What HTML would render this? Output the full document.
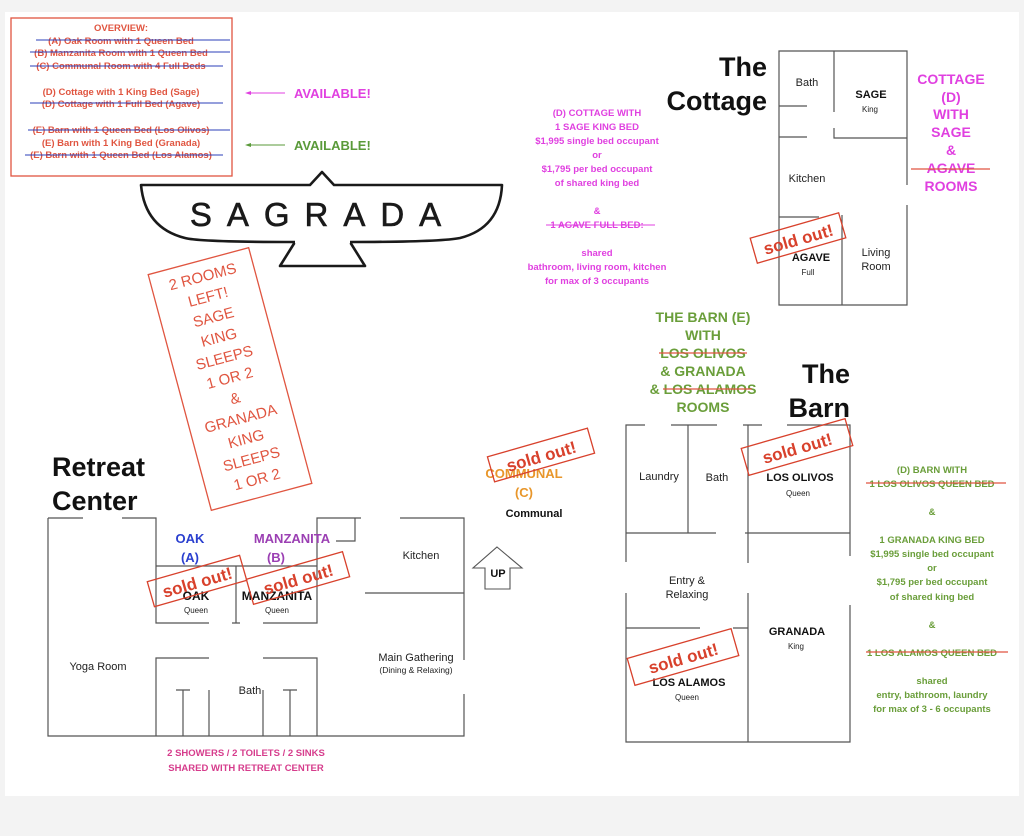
<!DOCTYPE html>
<html><head><meta charset="utf-8"><style>
html,body{margin:0;padding:0;background:#f3f3f3;}
svg{display:block;}
text{font-family:"Liberation Sans",Arial,sans-serif;}
</style></head><body>
<svg width="1024" height="836" viewBox="0 0 1024 836" xmlns="http://www.w3.org/2000/svg">
<rect x="5" y="12" width="1014" height="784" fill="#fff"/>

<!-- OVERVIEW BOX -->
<rect x="11" y="18" width="221" height="158" fill="none" stroke="#e05540" stroke-width="1.3"/>
<g font-size="9.5" font-weight="bold" fill="#e05540" text-anchor="middle">
<text x="121" y="31">OVERVIEW:</text>
<text x="121" y="44">(A) Oak Room with 1 Queen Bed</text>
<text x="121" y="56">(B) Manzanita Room with 1 Queen Bed</text>
<text x="121" y="69">(C) Communal Room with 4 Full Beds</text>
<text x="121" y="95">(D) Cottage with 1 King Bed (Sage)</text>
<text x="121" y="107">(D) Cottage with 1 Full Bed (Agave)</text>
<text x="121" y="133">(E) Barn with 1 Queen Bed (Los Olivos)</text>
<text x="121" y="146">(E) Barn with 1 King Bed (Granada)</text>
<text x="121" y="158">(E) Barn with 1 Queen Bed (Los Alamos)</text>
</g>
<g stroke="#2b3fb8" stroke-width="1">
<line x1="36" y1="40" x2="230" y2="40"/><line x1="30" y1="52" x2="230" y2="52"/><line x1="30" y1="66" x2="223" y2="66"/>
<line x1="30" y1="103" x2="223" y2="103"/><line x1="28" y1="130" x2="230" y2="130"/><line x1="25" y1="155" x2="223" y2="155"/>
</g>
<line x1="248" y1="93" x2="285" y2="93" stroke="#e040e0" stroke-width="1"/><polygon points="245,93 251,91 251,95" fill="#e040e0"/>
<text x="294" y="98" font-size="13" font-weight="bold" fill="#e040e0">AVAILABLE!</text>
<line x1="248" y1="145" x2="285" y2="145" stroke="#5a9a3a" stroke-width="1"/><polygon points="245,145 251,143 251,147" fill="#5a9a3a"/>
<text x="294" y="150" font-size="13" font-weight="bold" fill="#5a9a3a">AVAILABLE!</text>

<!-- SAGRADA LOGO -->
<path d="M141,185 L310,185 L322,172 L334,185 L502,185 Q500,228 460,238 Q440,242 350,242 L365,266 L280,266 L295,242 Q200,242 185,238 Q145,228 141,185 Z" fill="none" stroke="#1a1a1a" stroke-width="2.6" stroke-linejoin="round"/>
<line x1="295" y1="242" x2="350" y2="242" stroke="#fff" stroke-width="3"/>
<text x="323" y="226" font-family="Liberation Serif,serif" font-size="33" fill="#1a1a1a" stroke="#1a1a1a" stroke-width="0.6" text-anchor="middle" letter-spacing="15">SAGRADA</text>

<!-- 2 ROOMS LEFT stamp -->
<g transform="translate(230,379) rotate(-15)">
<rect x="-52" y="-122" width="104" height="244" fill="none" stroke="#e05540" stroke-width="1.3"/>
<g font-size="15" fill="#e05540" text-anchor="middle" font-family="Liberation Sans Narrow,Liberation Sans,sans-serif">
<text y="-101">2 ROOMS</text><text y="-80">LEFT!</text><text y="-59">SAGE</text><text y="-38">KING</text>
<text y="-17">SLEEPS</text><text y="4">1 OR 2</text><text y="25">&amp;</text><text y="46">GRANADA</text>
<text y="67">KING</text><text y="88">SLEEPS</text><text y="109">1 OR 2</text>
</g></g>

<!-- RETREAT CENTER -->
<text x="52" y="476" font-size="27" font-weight="bold" fill="#111">Retreat</text>
<text x="52" y="510" font-size="27" font-weight="bold" fill="#111">Center</text>
<g stroke="#555" stroke-width="1.2" fill="none">
<path d="M48,518 V736 H464 V694 M464,660 V518 H400"/>
<path d="M48,518 H83 M122,518 H156 V623 H209 M263,623 H317 V518 H361"/>
<path d="M156,566 H317 M236,566 V623 M232,566 H240 M232,623 H240"/>
<path d="M355,518 V541 H336"/>
<path d="M365,593 H464"/>
<path d="M156,736 V658 H209 M263,658 H317 V736"/>
<path d="M183,690 V736 M176,690 H190 M209,690 V736 M263,690 V736 M290,690 V736 M283,690 H297"/>
</g>
<text x="190" y="543" font-size="13" font-weight="bold" fill="#2a3fcf" text-anchor="middle">OAK</text>
<text x="190" y="562" font-size="13" font-weight="bold" fill="#2a3fcf" text-anchor="middle">(A)</text>
<text x="292" y="543" font-size="13" font-weight="bold" fill="#9b3fb3" text-anchor="middle">MANZANITA</text>
<text x="276" y="562" font-size="13" font-weight="bold" fill="#9b3fb3" text-anchor="middle">(B)</text>
<text x="196" y="600" font-size="12" font-weight="bold" fill="#111" text-anchor="middle">OAK</text>
<text x="196" y="613" font-size="8" fill="#222" text-anchor="middle">Queen</text>
<text x="277" y="600" font-size="12" font-weight="bold" fill="#111" text-anchor="middle">MANZANITA</text>
<text x="277" y="613" font-size="8" fill="#222" text-anchor="middle">Queen</text>
<text x="421" y="559" font-size="11" fill="#222" text-anchor="middle">Kitchen</text>
<text x="416" y="661" font-size="11" fill="#222" text-anchor="middle">Main Gathering</text>
<text x="416" y="673" font-size="8.5" fill="#222" text-anchor="middle">(Dining &amp; Relaxing)</text>
<text x="98" y="670" font-size="11" fill="#222" text-anchor="middle">Yoga Room</text>
<text x="250" y="694" font-size="11" fill="#222" text-anchor="middle">Bath</text>
<text x="524" y="478" font-size="13" font-weight="bold" fill="#e8962a" text-anchor="middle">COMMUNAL</text>
<text x="524" y="497" font-size="13" font-weight="bold" fill="#e8962a" text-anchor="middle">(C)</text>
<text x="534" y="517" font-size="11" font-weight="bold" fill="#111" text-anchor="middle">Communal</text>
<polygon points="497,547 522,568 510,568 510,589 485,589 485,568 473,568" fill="#fff" stroke="#555" stroke-width="1.1"/>
<text x="498" y="577" font-size="11" font-weight="bold" fill="#111" text-anchor="middle">UP</text>
<text x="246" y="756" font-size="9.5" font-weight="bold" fill="#d63c8c" text-anchor="middle">2 SHOWERS / 2 TOILETS / 2 SINKS</text>
<text x="246" y="771" font-size="9.5" font-weight="bold" fill="#d63c8c" text-anchor="middle">SHARED WITH RETREAT CENTER</text>

<!-- COTTAGE -->
<text x="767" y="76" font-size="27" font-weight="bold" fill="#111" text-anchor="end">The</text>
<text x="767" y="110" font-size="27" font-weight="bold" fill="#111" text-anchor="end">Cottage</text>
<g stroke="#555" stroke-width="1.2" fill="none">
<path d="M907,185 V51 H779 V305 H907 V205"/>
<path d="M834,51 V112 M834,128 V138 H907 M779,106 H807 M779,137 H807 M779,217 H819 M842,215 V305"/>
</g>
<text x="807" y="86" font-size="11" fill="#222" text-anchor="middle">Bath</text>
<text x="871" y="98" font-size="11" font-weight="bold" fill="#111" text-anchor="middle">SAGE</text>
<text x="870" y="112" font-size="8" fill="#222" text-anchor="middle">King</text>
<text x="807" y="182" font-size="11" fill="#222" text-anchor="middle">Kitchen</text>
<text x="811" y="261" font-size="11" font-weight="bold" fill="#111" text-anchor="middle">AGAVE</text>
<text x="808" y="275" font-size="8" fill="#222" text-anchor="middle">Full</text>
<text x="876" y="256" font-size="11" fill="#222" text-anchor="middle">Living</text>
<text x="876" y="270" font-size="11" fill="#222" text-anchor="middle">Room</text>
<g font-size="9.5" font-weight="bold" fill="#e040e0" text-anchor="middle">
<text x="597" y="116">(D) COTTAGE WITH</text><text x="597" y="130">1 SAGE KING BED</text>
<text x="597" y="144">$1,995 single bed occupant</text><text x="597" y="158">or</text>
<text x="597" y="172">$1,795 per bed occupant</text><text x="597" y="186">of shared king bed</text>
<text x="597" y="214">&amp;</text><text x="597" y="228">1 AGAVE FULL BED:</text>
<text x="597" y="256">shared</text><text x="597" y="270">bathroom, living room, kitchen</text>
<text x="597" y="284">for max of 3 occupants</text>
</g>
<line x1="546" y1="225" x2="655" y2="225" stroke="#e040e0" stroke-width="1"/>
<g font-size="14" font-weight="bold" fill="#e040e0" text-anchor="middle">
<text x="951" y="84">COTTAGE</text><text x="951" y="102">(D)</text><text x="951" y="119">WITH</text>
<text x="951" y="137">SAGE</text><text x="951" y="155">&amp;</text><text x="951" y="173">AGAVE</text><text x="951" y="191">ROOMS</text>
</g>
<line x1="911" y1="169" x2="990" y2="169" stroke="#e05540" stroke-width="1.2"/>

<!-- BARN -->
<g font-size="14" font-weight="bold" fill="#6a9e3a" text-anchor="middle">
<text x="703" y="322">THE BARN (E)</text><text x="703" y="340">WITH</text><text x="703" y="358">LOS OLIVOS</text>
<text x="703" y="376">&amp; GRANADA</text><text x="703" y="394">&amp; LOS ALAMOS</text><text x="703" y="412">ROOMS</text>
</g>
<line x1="659" y1="353" x2="747" y2="353" stroke="#e05540" stroke-width="1.2"/>
<line x1="663" y1="389" x2="752" y2="389" stroke="#e05540" stroke-width="1.2"/>
<text x="850" y="383" font-size="27" font-weight="bold" fill="#111" text-anchor="end">The</text>
<text x="850" y="417" font-size="27" font-weight="bold" fill="#111" text-anchor="end">Barn</text>
<g stroke="#555" stroke-width="1.2" fill="none">
<path d="M626,562 V425 H645 M671,425 H717 M743,425 H762 M787,425 H850 V556 M850,605 V742 H626 V593"/>
<path d="M688,425 V533 M748,425 V563 M748,593 V742 M626,533 H716 M745,533 H850 M626,628 H700 M733,628 H748"/>
</g>
<text x="659" y="480" font-size="11" fill="#222" text-anchor="middle">Laundry</text>
<text x="717" y="481" font-size="11" fill="#222" text-anchor="middle">Bath</text>
<text x="800" y="481" font-size="11" font-weight="bold" fill="#111" text-anchor="middle">LOS OLIVOS</text>
<text x="798" y="496" font-size="8" fill="#222" text-anchor="middle">Queen</text>
<text x="687" y="584" font-size="11" fill="#222" text-anchor="middle">Entry &amp;</text>
<text x="687" y="598" font-size="11" fill="#222" text-anchor="middle">Relaxing</text>
<text x="797" y="635" font-size="11" font-weight="bold" fill="#111" text-anchor="middle">GRANADA</text>
<text x="796" y="649" font-size="8" fill="#222" text-anchor="middle">King</text>
<text x="689" y="686" font-size="11" font-weight="bold" fill="#111" text-anchor="middle">LOS ALAMOS</text>
<text x="687" y="700" font-size="8" fill="#222" text-anchor="middle">Queen</text>
<g font-size="9.5" font-weight="bold" fill="#6a9e3a" text-anchor="middle">
<text x="932" y="473">(D) BARN WITH</text><text x="932" y="487">1 LOS OLIVOS QUEEN BED</text>
<text x="932" y="515">&amp;</text><text x="932" y="543">1 GRANADA KING BED</text>
<text x="932" y="557">$1,995 single bed occupant</text><text x="932" y="571">or</text>
<text x="932" y="585">$1,795 per bed occupant</text><text x="932" y="600">of shared king bed</text>
<text x="932" y="628">&amp;</text><text x="932" y="656">1 LOS ALAMOS QUEEN BED</text>
<text x="932" y="684">shared</text><text x="932" y="698">entry, bathroom, laundry</text>
<text x="932" y="712">for max of 3 - 6 occupants</text>
</g>
<line x1="866" y1="483" x2="1006" y2="483" stroke="#e05540" stroke-width="1.2"/>
<line x1="866" y1="652" x2="1008" y2="652" stroke="#e05540" stroke-width="1.2"/>

<!-- SOLD OUT STAMPS -->
<g fill="none" stroke="#d8412c" stroke-width="1.3">
<g transform="translate(197,581) rotate(-16)"><rect x="-48" y="-13" width="96" height="26"/></g>
<g transform="translate(298,578) rotate(-16)"><rect x="-50" y="-13" width="100" height="26"/></g>
<g transform="translate(541,455) rotate(-16)"><rect x="-52" y="-13" width="104" height="26"/></g>
<g transform="translate(798,238) rotate(-16)"><rect x="-46" y="-13" width="92" height="26"/></g>
<g transform="translate(797,447) rotate(-16)"><rect x="-54" y="-14" width="108" height="28"/></g>
<g transform="translate(683,657) rotate(-16)"><rect x="-54" y="-14" width="108" height="28"/></g>
</g>
<g font-size="17" font-weight="bold" fill="#d8412c" text-anchor="middle">
<text transform="translate(199,588) rotate(-16)">sold out!</text>
<text transform="translate(300,585) rotate(-16)">sold out!</text>
<text transform="translate(543,462) rotate(-16)">sold out!</text>
<text transform="translate(800,245) rotate(-16)">sold out!</text>
<text transform="translate(799,454) rotate(-16)">sold out!</text>
<text transform="translate(685,664) rotate(-16)">sold out!</text>
</g>
</svg>
</body></html>
